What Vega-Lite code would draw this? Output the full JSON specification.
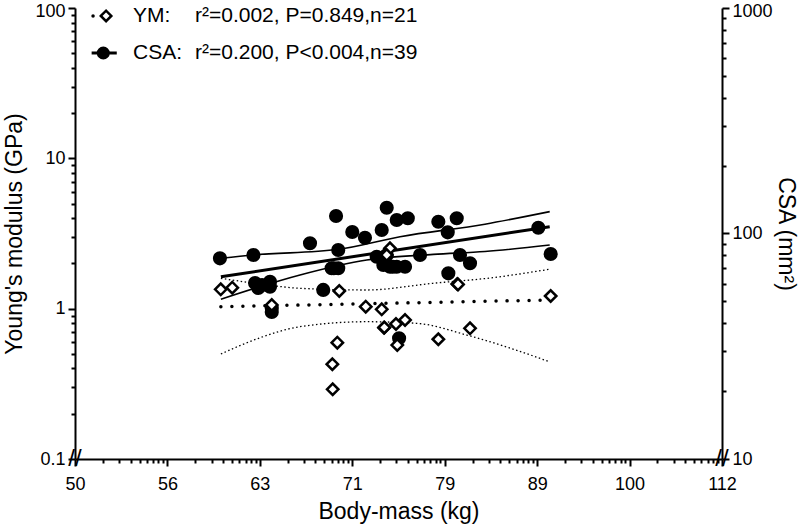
{
  "$schema": "https://vega.github.io/schema/vega-lite/v6.json",
  "width": 647,
  "height": 451,
  "autosize": "none",
  "padding": {"left": 75, "top": 8, "right": 78, "bottom": 71},
  "config": {
    "view": {"stroke": null},
    "font": "Liberation Sans",
    "axis": {
      "grid": false,
      "domainColor": "black",
      "domainWidth": 2,
      "tickColor": "black",
      "tickWidth": 2,
      "labelColor": "black",
      "titleColor": "black",
      "labelFont": "Liberation Sans",
      "titleFont": "Liberation Sans",
      "labelFontSize": 18,
      "titleFontSize": 23,
      "titleFontWeight": "normal",
      "labelOverlap": false,
      "labelBound": false,
      "labelFlush": false
    },
    "text": {"font": "Liberation Sans", "fontSize": 21, "align": "left", "baseline": "middle", "color": "black"}
  },
  "datasets": {
    "ym": [
      {"mass": 59.99, "value": 1.345}, {"mass": 60.86, "value": 1.379}, {"mass": 63.94, "value": 1.058},
      {"mass": 69.57, "value": 1.311}, {"mass": 71.91, "value": 1.031}, {"mass": 73.36, "value": 0.99},
      {"mass": 74.12, "value": 2.52}, {"mass": 73.82, "value": 2.275}, {"mass": 73.57, "value": 0.747},
      {"mass": 74.68, "value": 0.791}, {"mass": 75.53, "value": 0.841}, {"mass": 74.8, "value": 0.573},
      {"mass": 69.4, "value": 0.594}, {"mass": 68.97, "value": 0.427}, {"mass": 69.0, "value": 0.291},
      {"mass": 78.74, "value": 0.626}, {"mass": 80.63, "value": 1.459}, {"mass": 81.92, "value": 0.74},
      {"mass": 90.61, "value": 1.214}, {"mass": 80.7, "value": 1.45}, {"mass": 73.6, "value": 0.75}
    ],
    "csa": [
      {"mass": 59.93, "value": 77.6}, {"mass": 62.49, "value": 80.3}, {"mass": 62.62, "value": 60.3},
      {"mass": 62.87, "value": 57.3}, {"mass": 63.8, "value": 61.1}, {"mass": 63.8, "value": 58.1},
      {"mass": 63.94, "value": 46.6}, {"mass": 67.07, "value": 90.5}, {"mass": 68.19, "value": 56.2},
      {"mass": 69.29, "value": 119.6}, {"mass": 69.48, "value": 84.5}, {"mass": 68.91, "value": 70.1},
      {"mass": 69.48, "value": 70.1}, {"mass": 70.71, "value": 101.5}, {"mass": 71.84, "value": 95.8},
      {"mass": 72.9, "value": 78.9}, {"mass": 73.36, "value": 103.6}, {"mass": 73.82, "value": 130.1},
      {"mass": 73.51, "value": 72.5}, {"mass": 74.12, "value": 71.2}, {"mass": 74.75, "value": 71.2},
      {"mass": 75.53, "value": 71.2}, {"mass": 74.75, "value": 114.8}, {"mass": 75.79, "value": 116.8},
      {"mass": 74.97, "value": 34.3}, {"mass": 76.96, "value": 80.3}, {"mass": 78.74, "value": 112.8},
      {"mass": 79.67, "value": 101.2}, {"mass": 80.57, "value": 116.8}, {"mass": 79.73, "value": 66.6},
      {"mass": 80.9, "value": 80.3}, {"mass": 81.92, "value": 73.8}, {"mass": 89.22, "value": 106.1},
      {"mass": 90.61, "value": 81.1}, {"mass": 63.17, "value": 59.1}, {"mass": 69.1, "value": 70.1},
      {"mass": 73.82, "value": 80.3}, {"mass": 74.4, "value": 71.2}, {"mass": 63.94, "value": 44.9}
    ],
    "ymfit": [
      {"mass": 60, "value": 1.031}, {"mass": 90.5, "value": 1.142}
    ],
    "ymci": [
      {"curve": "upper", "mass": 60, "value": 1.592}, {"curve": "upper", "mass": 63, "value": 1.46},
      {"curve": "upper", "mass": 66.24, "value": 1.366}, {"curve": "upper", "mass": 72.0, "value": 1.331},
      {"curve": "upper", "mass": 78.2, "value": 1.475}, {"curve": "upper", "mass": 84, "value": 1.6},
      {"curve": "upper", "mass": 90.5, "value": 1.83},
      {"curve": "lower", "mass": 60, "value": 0.4995}, {"curve": "lower", "mass": 63, "value": 0.64},
      {"curve": "lower", "mass": 66.24, "value": 0.759}, {"curve": "lower", "mass": 72.0, "value": 0.819},
      {"curve": "lower", "mass": 76.64, "value": 0.799}, {"curve": "lower", "mass": 81.58, "value": 0.668},
      {"curve": "lower", "mass": 86, "value": 0.55}, {"curve": "lower", "mass": 90.5, "value": 0.443}
    ],
    "csafit": [
      {"mass": 60, "value": 64.3}, {"mass": 90.5, "value": 107.2}
    ],
    "csaci": [
      {"curve": "upper", "mass": 60, "value": 77.6}, {"curve": "upper", "mass": 62.5, "value": 80.3},
      {"curve": "upper", "mass": 69.5, "value": 85.1}, {"curve": "upper", "mass": 75.06, "value": 96.8},
      {"curve": "upper", "mass": 83.46, "value": 110}, {"curve": "upper", "mass": 90.5, "value": 125},
      {"curve": "lower", "mass": 60, "value": 51.1}, {"curve": "lower", "mass": 66.24, "value": 65.5},
      {"curve": "lower", "mass": 72.0, "value": 76.3}, {"curve": "lower", "mass": 78.25, "value": 80.8},
      {"curve": "lower", "mass": 83.46, "value": 83.2}, {"curve": "lower", "mass": 90.5, "value": 88.9}
    ]
  },
  "layer": [
    {
      "encoding": {
        "x": {
          "field": "mass",
          "type": "quantitative",
          "title": "Body-mass (kg)",
          "scale": {"type": "log", "domain": [50, 112.246], "nice": false},
          "axis": {
            "values": [50, 51.77, 52.83, 53.6, 54.2, 54.7, 55.13, 55.5, 55.83,
              56.123, 58.109, 59.303, 60.165, 60.843, 61.402, 61.879, 62.295, 62.664,
              62.996, 65.225, 66.566, 67.533, 68.294, 68.921, 69.456, 69.923, 70.338,
              70.711, 73.213, 74.718, 75.804, 76.657, 77.362, 77.962, 78.486, 78.952,
              79.37, 82.179, 83.868, 85.087, 86.045, 86.835, 87.51, 88.098, 88.62,
              89.09, 92.242, 94.138, 95.507, 96.582, 97.47, 98.226, 98.887, 99.473,
              100, 103.539, 105.667, 107.203, 108.41, 109.406, 110.255, 110.997, 111.655, 112.246],
            "labelExpr": "indexof([50, 56.123, 62.996, 70.711, 79.37, 89.09, 100, 112.246], datum.value) >= 0 ? '' + round(datum.value) : ''",
            "tickSize": {"condition": {"test": "indexof([50, 56.123, 62.996, 70.711, 79.37, 89.09, 100, 112.246], datum.value) >= 0", "value": 7}, "value": 4},
            "labelPadding": 9,
            "titlePadding": 7
          }
        },
        "y": {
          "field": "value",
          "type": "quantitative",
          "title": "CSA (mm²)",
          "scale": {"type": "log", "domain": [10, 1000], "nice": false},
          "axis": {
            "orient": "right",
            "values": [10, 20, 30, 40, 50, 60, 70, 80, 90, 100, 200, 300, 400, 500, 600, 700, 800, 900, 1000],
            "labelExpr": "indexof([10, 100, 1000], datum.value) >= 0 ? '' + datum.value : ''",
            "tickSize": {"condition": {"test": "indexof([10, 100, 1000], datum.value) >= 0", "value": 7}, "value": 4},
            "labelOffset": {"condition": {"test": "datum.value == 1000", "value": 3}, "value": 0},
            "labelPadding": 3,
            "titlePadding": 1
          }
        }
      },
      "layer": [
        {
          "data": {"name": "csaci"},
          "mark": {"type": "line", "stroke": "black", "strokeWidth": 1.6, "interpolate": "monotone"},
          "encoding": {"detail": {"field": "curve"}}
        },
        {
          "data": {"name": "csafit"},
          "mark": {"type": "line", "stroke": "black", "strokeWidth": 3},
          "encoding": {}
        },
        {
          "data": {"name": "csa"},
          "mark": {"type": "point", "shape": "circle", "filled": true, "fill": "black", "stroke": null, "size": 200, "opacity": 1}
        }
      ]
    },
    {
      "layer": [
        {
          "encoding": {
            "x": {
              "field": "mass",
              "type": "quantitative",
              "title": "Body-mass (kg)",
              "scale": {"type": "log", "domain": [50, 112.246], "nice": false}
            },
            "y": {
              "field": "value",
              "type": "quantitative",
              "title": "Young's modulus (GPa)",
              "scale": {"type": "log", "domain": [0.1, 100], "nice": false},
              "axis": {
                "orient": "left",
                "values": [0.1, 0.2, 0.3, 0.4, 0.5, 0.6, 0.7, 0.8, 0.9, 1, 2, 3, 4, 5, 6, 7, 8, 9, 10, 20, 30, 40, 50, 60, 70, 80, 90, 100],
                "labelExpr": "indexof([0.1, 1, 10, 100], datum.value) >= 0 ? '' + datum.value : ''",
                "tickSize": {"condition": {"test": "indexof([0.1, 1, 10, 100], datum.value) >= 0", "value": 7}, "value": 4},
                "labelOffset": {"condition": {"test": "datum.value == 100", "value": 3}, "value": 0},
                "labelPadding": 3,
                "titlePadding": 8
              }
            }
          },
          "layer": [
            {
              "data": {"name": "ymci"},
              "mark": {"type": "line", "stroke": "black", "strokeWidth": 1.3, "strokeDash": [1.5, 2.5], "interpolate": "monotone"},
              "encoding": {"detail": {"field": "curve"}}
            },
            {
              "data": {"name": "ymfit"},
              "mark": {"type": "line", "stroke": "black", "strokeWidth": 3.5, "strokeDash": [0.01, 11], "strokeCap": "round"},
              "encoding": {}
            },
            {
              "data": {"name": "ym"},
              "mark": {"type": "point", "shape": "diamond", "filled": true, "fill": "white", "stroke": "black", "strokeWidth": 2.5, "size": 130, "opacity": 1}
            }
          ]
        },
        {
          "data": {"values": [{}]},
          "layer": [
            {
              "mark": {"type": "rule", "stroke": "black", "strokeWidth": 3.5, "strokeDash": [0.01, 20.5], "strokeCap": "round"},
              "encoding": {
                "x": {"datum": 51.14, "type": "quantitative", "title": "Body-mass (kg)", "scale": {"type": "log", "domain": [50, 112.246], "nice": false}},
                "x2": {"datum": 52.46},
                "y": {"datum": 88.5, "type": "quantitative", "title": "Young's modulus (GPa)", "scale": {"type": "log", "domain": [0.1, 100], "nice": false}}
              }
            },
            {
              "mark": {"type": "point", "shape": "diamond", "filled": true, "fill": "white", "stroke": "black", "strokeWidth": 2.5, "size": 110, "opacity": 1},
              "encoding": {"x": {"datum": 51.98, "type": "quantitative"}, "y": {"datum": 88.5, "type": "quantitative"}}
            },
            {
              "mark": {"type": "rule", "stroke": "black", "strokeWidth": 3},
              "encoding": {"x": {"datum": 51.05, "type": "quantitative"}, "x2": {"datum": 52.68}, "y": {"datum": 50.2, "type": "quantitative"}}
            },
            {
              "mark": {"type": "point", "shape": "circle", "filled": true, "fill": "black", "stroke": null, "size": 170, "opacity": 1},
              "encoding": {"x": {"datum": 51.8, "type": "quantitative"}, "y": {"datum": 50.2, "type": "quantitative"}}
            },
            {
              "mark": {"type": "text", "text": "YM:"},
              "encoding": {"x": {"datum": 53.76, "type": "quantitative"}, "y": {"datum": 88.5, "type": "quantitative"}}
            },
            {
              "mark": {"type": "text", "text": "r²=0.002, P=0.849,n=21"},
              "encoding": {"x": {"datum": 58.09, "type": "quantitative"}, "y": {"datum": 88.5, "type": "quantitative"}}
            },
            {
              "mark": {"type": "text", "text": "CSA:"},
              "encoding": {"x": {"datum": 53.76, "type": "quantitative"}, "y": {"datum": 50.2, "type": "quantitative"}}
            },
            {
              "mark": {"type": "text", "text": "r²=0.200, P<0.004,n=39"},
              "encoding": {"x": {"datum": 58.09, "type": "quantitative"}, "y": {"datum": 50.2, "type": "quantitative"}}
            },
            {
              "mark": {"type": "text", "text": "//", "align": "center", "fontSize": 24},
              "encoding": {"x": {"datum": 50, "type": "quantitative"}, "y": {"datum": 0.1, "type": "quantitative"}}
            },
            {
              "mark": {"type": "text", "text": "//", "align": "center", "fontSize": 24},
              "encoding": {"x": {"datum": 112.246, "type": "quantitative"}, "y": {"datum": 0.1, "type": "quantitative"}}
            }
          ]
        }
      ]
    }
  ],
  "resolve": {"scale": {"y": "independent"}}
}
